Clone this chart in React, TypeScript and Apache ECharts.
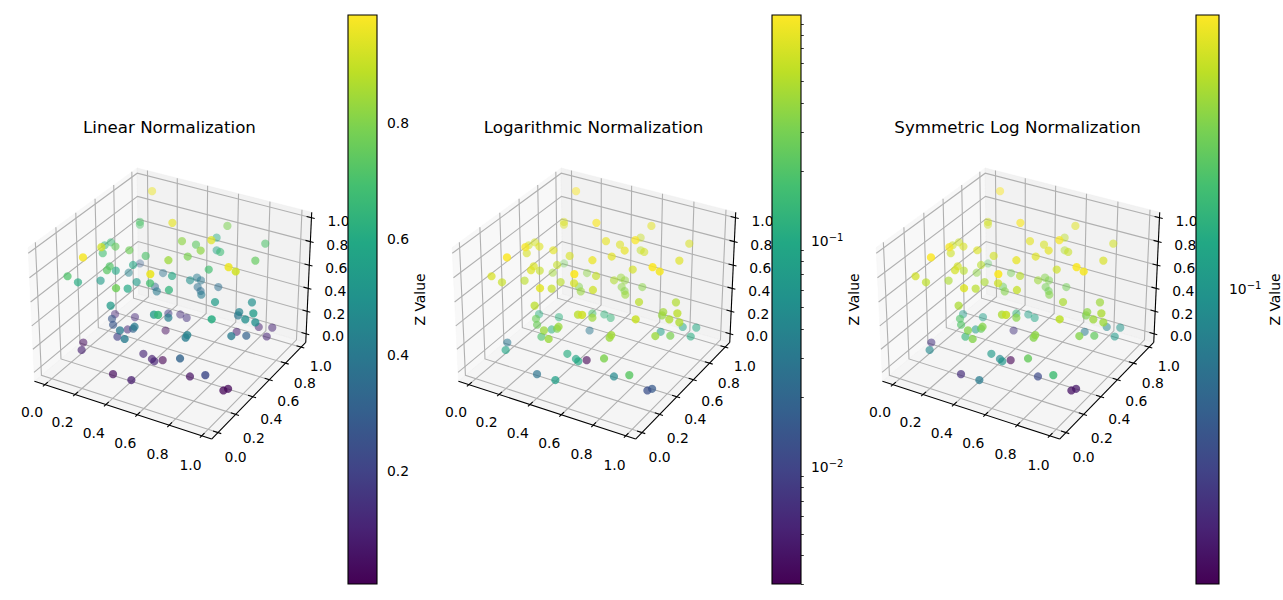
import React, { useEffect, useRef } from "react";
import * as echarts from "echarts";

// ---- data ----
const xValues = [.092,.041,.058,.384,.559,.453,.664,.447,.480,.591,.501,.594,.794,.543,.863,.506,.281,.211,.106,-.003,-.030,.170,.041,.188,.177,.195,.138,.188,.000,.107,.029,.041,.089,.371,.302,.272,.583,.447,.232,.443,.246,.336,.540,.650,.904,.934,.489,.456,.478,.487,.511,.573,.583,.760,.908,.284,.060,.181,.221,.184,.428,.373,.219,.379,.257,.448,.539,.631,.375,.546,.402,.459,.357,.739,.727,.876,.867,.849,.999,.962,1.024,.838,.914,.748,.933,.945,.936,.017,.093,.425,.483,.513,.488,.752,.338,.490,.729,.896,.938,.954];
const yValues = [.956,.902,.873,.685,1.010,1.079,.627,.683,.785,.639,.993,.863,1.029,.579,.774,.430,.564,.504,.526,.652,.627,.280,.494,.068,.350,.293,.474,.579,.965,.662,.150,.233,.390,.103,.333,.478,.108,.332,.839,.579,.723,.591,.377,.627,.381,.406,.703,.843,.850,.796,.788,.684,.867,.502,.658,.182,.581,.356,.303,.599,.195,.269,.460,.122,.289,.058,.217,.105,.654,.360,.745,.719,.653,.231,.234,.252,.587,.608,.499,.477,.476,.890,.911,.790,.373,.527,.799,.304,.170,.290,.286,.261,.395,.130,.107,.053,.281,.152,.283,.307];
const zValues = [.958,.708,.708,.948,.788,.608,.938,.818,.738,.818,.568,.668,.708,.788,.748,.838,.708,.768,.748,.668,.648,.918,.688,.973,.718,.728,.588,.588,.288,.438,.708,.608,.538,.768,.588,.538,.958,.688,.368,.588,.328,.408,.638,.688,.958,.918,.488,.408,.388,.368,.348,.408,.358,.538,.488,.538,.108,.268,.268,.118,.408,.318,.118,.408,.188,.408,.538,.648,.188,.418,.128,.138,.03,.438,.408,.608,.438,.388,.538,.488,.488,.09,.10,.08,.408,.308,.108,.03,.09,.108,.09,.10,.003,.318,.027,.08,.045,.222,.012,.015];
const axisTicks = [0, 0.2, 0.4, 0.6, 0.8, 1];
const panelTitles = ["Linear Normalization", "Logarithmic Normalization", "Symmetric Log Normalization"];
const linearTicks = [0.2, 0.4, 0.6, 0.8];
const logMajorTicks = [0.01, 0.1];
const logMinorTicks = [0.003,0.004,0.005,0.006,0.007,0.008,0.009,0.02,0.03,0.04,0.05,0.06,0.07,0.08,0.09,0.2,0.3,0.4,0.5,0.6,0.7,0.8,0.9];
const symlogTicks = [0.1];
const zMin = 0.003, zMax = 0.985;
const viridis = ["#440154","#482475","#414487","#355f8d","#2a788e","#21918c","#22a884","#44bf70","#7ad151","#bddf26","#fde725"];

// ---- colour scales ----
const linThresh = 0.1;
const linAdj = 1 / (1 - 0.1);
const transforms: ((v: number) => number)[] = [
  (v) => v,
  (v) => Math.log10(v),
  (v) => (v > linThresh ? linThresh * (linAdj + Math.log10(v / linThresh)) : v * linAdj),
];
function hexRgb(h: string) { return [1, 3, 5].map((i) => parseInt(h.slice(i, i + 2), 16)); }
function viridisAt(t: number) {
  const f = Math.max(0, Math.min(1, t)) * (viridis.length - 1);
  const i = Math.min(viridis.length - 2, Math.floor(f));
  const a = hexRgb(viridis[i]), b = hexRgb(viridis[i + 1]);
  const k = f - i;
  return `rgb(${a.map((c, n) => Math.round(c + (b[n] - c) * k)).join(",")})`;
}

// ---- matplotlib-like 3D projection (elev 30, azim -60, dist 10) ----
const BOX = [1.1905, 1.1905, 0.8929];
const X_LIM = [-0.07, 1.06], Y_LIM = [-0.07, 1.06], Z_LIM = [-0.078, 1.045];
const U = [0.866, 0.5, 0], V = [-0.25, 0.433, 0.866], W = [0.433, -0.75, 0.5];
function project(x: number, y: number, z: number) {
  const q = [
    ((x - X_LIM[0]) / (X_LIM[1] - X_LIM[0]) - 0.5) * BOX[0],
    ((y - Y_LIM[0]) / (Y_LIM[1] - Y_LIM[0]) - 0.5) * BOX[1],
    ((z - Z_LIM[0]) / (Z_LIM[1] - Z_LIM[0]) - 0.5) * BOX[2],
  ];
  const dot = (a: number[]) => a[0] * q[0] + a[1] * q[1] + a[2] * q[2];
  const depth = 10 - dot(W);
  return { u: dot(U) / depth, v: dot(V) / depth, depth };
}

// ---- layout ----
const FONT = "DejaVu Sans";
const SCALE = 1705, CX = 172.6, CY = 297;
const PANEL_DX = [0, 424, 848];
const PANEL = { left: 0, top: 140, width: 342, height: 340 };
const BAR = { left: 348, top: 15, width: 29, bottom: 16 };
const NAME_GAP = [33.5, 45.5, 49];

function scene(api: any) {
  const [x0, x1] = X_LIM, [y0, y1] = Y_LIM, [z0, z1] = Z_LIM;
  const p = (x: number, y: number, z: number) => {
    const r = project(x, y, z);
    return api.coord([r.u, r.v]);
  };
  const kids: any[] = [];
  const poly = (pts: number[][], fill: string) =>
    kids.push({ type: "polygon", shape: { points: pts }, style: { fill, stroke: fill, lineWidth: 0.5 } });
  const line = (pts: number[][], stroke: string, lineWidth: number) =>
    kids.push({ type: "polyline", shape: { points: pts }, style: { fill: "none", stroke, lineWidth } });
  const text = (s: string, at: number[], dx: number, dy: number) =>
    kids.push({ type: "text", style: { text: s, x: at[0] + dx, y: at[1] + dy, fill: "#000", fontSize: 13.9, fontFamily: FONT, align: "center", verticalAlign: "middle" } });

  poly([p(x0, y0, z0), p(x0, y1, z0), p(x0, y1, z1), p(x0, y0, z1)], "rgba(242,242,242,0.5)");
  poly([p(x0, y1, z0), p(x1, y1, z0), p(x1, y1, z1), p(x0, y1, z1)], "rgba(230,230,230,0.5)");
  poly([p(x0, y0, z0), p(x1, y0, z0), p(x1, y1, z0), p(x0, y1, z0)], "rgba(236,236,236,0.5)");

  const grid = "#b0b0b0";
  axisTicks.forEach((t) => {
    line([p(t, y0, z0), p(t, y1, z0), p(t, y1, z1)], grid, 1.1);
    line([p(x1, t, z0), p(x0, t, z0), p(x0, t, z1)], grid, 1.1);
    line([p(x0, y0, t), p(x0, y1, t), p(x1, y1, t)], grid, 1.1);
  });

  line([p(x0, y0, z0), p(x1, y0, z0)], "#000", 1.1);
  line([p(x1, y0, z0), p(x1, y1, z0)], "#000", 1.1);
  line([p(x1, y1, z0), p(x1, y1, z1)], "#000", 1.1);

  axisTicks.forEach((t, i) => {
    const f = i / (axisTicks.length - 1);
    const label = t.toFixed(1);
    line([p(t, y0 + 0.03, z0), p(t, y0 - 0.02, z0)], "#000", 1.1);
    text(label, p(t, y0, z0), -12.8 + 1.5 * f, 27.5 + 2 * f);
    line([p(x1 - 0.03, t, z0), p(x1 + 0.02, t, z0)], "#000", 1.1);
    text(label, p(x1, t, z0), 17.7 + 2 * f, 24.3 - 5.2 * f);
    line([p(x1 - 0.03, y1, t), p(x1 + 0.02, y1, t)], "#000", 1.1);
    text(label, p(x1, y1, t), 27, 2.4 + 1.2 * f);
  });
  return { type: "group", children: kids };
}

function barItem(api: any) {
  const a = api.coord([0, api.value(1)]);
  const b = api.coord([1, api.value(3)]);
  return {
    type: "rect",
    shape: { x: a[0], y: b[1], width: b[0] - a[0], height: a[1] - b[1] },
    style: {
      fill: new echarts.graphic.LinearGradient(0, 1, 0, 0, viridis.map((color, i) => ({ offset: i / (viridis.length - 1), color }))),
      stroke: "#000",
      lineWidth: 1.1,
    },
  };
}

function buildOption() {
  const grids: any[] = [], xAxes: any[] = [], yAxes: any[] = [], series: any[] = [], titles: any[] = [];
  PANEL_DX.forEach((dx, i) => {
    const T = transforms[i];
    const lo = T(zMin), hi = T(zMax);
    titles.push({
      text: panelTitles[i], left: 164.5 + dx, top: 114, textAlign: "center",
      textStyle: { fontFamily: FONT, fontSize: 16.67, fontWeight: "normal", color: "#000" },
    });

    // 3D panel on hidden axes in projected units
    const gridIdx = grids.length;
    grids.push({ left: PANEL.left + dx, top: PANEL.top, width: PANEL.width, height: PANEL.height });
    xAxes.push({ gridIndex: gridIdx, type: "value", show: false, min: (PANEL.left - CX) / SCALE, max: (PANEL.left + PANEL.width - CX) / SCALE });
    yAxes.push({ gridIndex: gridIdx, type: "value", show: false, min: (CY - PANEL.top - PANEL.height) / SCALE, max: (CY - PANEL.top) / SCALE });
    const axisIdx = xAxes.length - 1, yIdx = yAxes.length - 1;
    series.push({ type: "custom", xAxisIndex: axisIdx, yAxisIndex: yIdx, data: [[0, 0]], renderItem: (_: any, api: any) => scene(api), silent: true, z: 2 + i * 2, clip: false });

    const pts = xValues.map((x, n) => ({ ...project(x, yValues[n], zValues[n]), z: zValues[n] }));
    const dMin = Math.min(...pts.map((q) => q.depth)), dMax = Math.max(...pts.map((q) => q.depth));
    const data = pts.slice().sort((a, b) => b.depth - a.depth).map((q) => ({
      value: [q.u, q.v],
      itemStyle: {
        color: viridisAt((T(q.z) - lo) / (hi - lo)),
        opacity: 0.9 * (1 - 0.6 * (q.depth - dMin) / (dMax - dMin)),
      },
    }));
    series.push({ type: "scatter", xAxisIndex: axisIdx, yAxisIndex: yIdx, data, symbolSize: 8.2, silent: true, z: 2 + i * 2, clip: false });

    // colour bar
    const barIdx = grids.length;
    grids.push({ left: BAR.left + dx, top: BAR.top, width: BAR.width, bottom: BAR.bottom });
    xAxes.push({ gridIndex: barIdx, type: "value", show: false, min: 0, max: 1 });
    const barX = xAxes.length - 1;
    const majors = (i === 0 ? linearTicks : i === 1 ? logMajorTicks : symlogTicks).map(T);
    const fmt = i === 0
      ? (v: number) => v.toFixed(1)
      : (v: number) => `{b|10}{s|\u2212${Math.round(-Math.log10(i === 1 ? Math.pow(10, v) : v / linAdj))}}`;
    yAxes.push({
      gridIndex: barIdx, type: "value", position: "right", min: lo, max: hi, splitLine: { show: false },
      axisLine: { show: false },
      axisTick: { show: true, length: 4.9, lineStyle: { color: "#000", width: 1.1 }, customValues: majors },
      axisLabel: {
        show: true, customValues: majors, margin: 10, padding: [2, 0, 0, 0], color: "#000", fontFamily: FONT, fontSize: 13.9, formatter: fmt,
        rich: {
          b: { fontFamily: FONT, fontSize: 13.9, color: "#000" },
          s: { fontFamily: FONT, fontSize: 10, color: "#000", verticalAlign: "bottom", padding: [0, 0, 7, 0] },
        },
      },
      name: "Z Value", nameLocation: "middle", nameGap: NAME_GAP[i], nameRotate: 90,
      nameTextStyle: { fontFamily: FONT, fontSize: 13.9, color: "#000" },
    });
    const barY = yAxes.length - 1;
    series.push({ type: "custom", xAxisIndex: barX, yAxisIndex: barY, data: [[0, lo, 1, hi]], renderItem: (_: any, api: any) => barItem(api), silent: true, z: 3 + i * 2, clip: false });
    if (i === 1) {
      const minors = logMinorTicks.map(T);
      yAxes.push({
        gridIndex: barIdx, type: "value", position: "right", min: lo, max: hi, splitLine: { show: false },
        axisLine: { show: false }, axisLabel: { show: false },
        axisTick: { show: true, length: 2.8, lineStyle: { color: "#000", width: 0.8 }, customValues: minors },
      });
    }
  });
  return { animation: false, backgroundColor: "#fff", title: titles, grid: grids, xAxis: xAxes, yAxis: yAxes, series };
}

export default function App() {
  const ref = useRef<HTMLDivElement>(null);
  useEffect(() => {
    document.body.style.margin = "0";
    const chart = echarts.init(ref.current!, undefined, { renderer: "svg" });
    chart.setOption(buildOption());
    return () => chart.dispose();
  }, []);
  return <div ref={ref} style={{ width: 1283, height: 600 }} />;
}
